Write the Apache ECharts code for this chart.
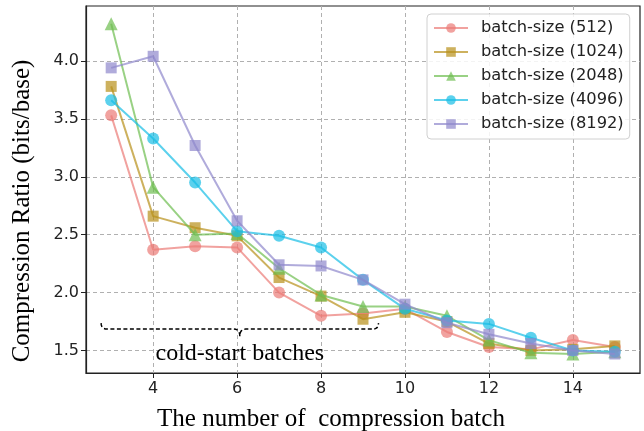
<!DOCTYPE html>
<html>
<head>
<meta charset="utf-8">
<script src="https://cdn.jsdelivr.net/npm/echarts@6/dist/echarts.min.js"></script>
<style>
html,body{margin:0;padding:0;background:#fff;}
#chart{width:644px;height:431px;}
</style>
</head>
<body>
<div id="chart"></div>
<script>
// ---- data ----
const batches = [3, 4, 5, 6, 7, 8, 9, 10, 11, 12, 13, 14, 15];
const bs512  = [3.53, 2.37, 2.40, 2.39, 2.00, 1.80, 1.82, 1.86, 1.66, 1.53, 1.51, 1.59, 1.53];
const bs1024 = [3.78, 2.66, 2.56, 2.49, 2.13, 1.97, 1.77, 1.83, 1.75, 1.56, 1.50, 1.51, 1.54];
const bs2048 = [4.32, 2.91, 2.50, 2.51, 2.21, 1.98, 1.88, 1.88, 1.80, 1.59, 1.48, 1.47, 1.49];
const bs4096 = [3.66, 3.33, 2.95, 2.53, 2.49, 2.39, 2.11, 1.86, 1.76, 1.73, 1.61, 1.50, 1.49];
const bs8192 = [3.94, 4.04, 3.27, 2.62, 2.24, 2.23, 2.11, 1.90, 1.74, 1.64, 1.56, 1.50, 1.47];
const seriesNames = ['batch-size (512)', 'batch-size (1024)', 'batch-size (2048)', 'batch-size (4096)', 'batch-size (8192)'];
const xTicks = [4, 6, 8, 10, 12, 14];
const yTicks = [1.5, 2.0, 2.5, 3.0, 3.5, 4.0];
const xTitle = 'The number of  compression batch';
const yTitle = 'Compression Ratio (bits/base)';
const annoText = 'cold-start batches';
const coldStart = [2.76, 9.37]; // brace span in batch units
const braceY = 1.685;
const annoY = 1.47;

// ---- style ----
const colors = ['#EB7B76', '#B8901A', '#6DBE50', '#17BEE6', '#8F87CC'];
const symbols = ['circle', 'rect', 'triangle', 'circle', 'rect'];
const symSizes = [12, 11, 13, 12, 11];
const allSeries = [bs512, bs1024, bs2048, bs4096, bs8192];

const chart = echarts.init(document.getElementById('chart'));

const series = allSeries.map((vals, i) => ({
  name: seriesNames[i],
  type: 'line',
  data: batches.map((b, j) => [b, vals[j]]),
  symbol: symbols[i],
  symbolSize: symSizes[i],
  showAllSymbol: true,
  color: colors[i],
  lineStyle: { width: 2, color: colors[i], opacity: 0.7 },
  itemStyle: { color: colors[i], opacity: 0.7 },
  emphasis: { disabled: true },
  animation: false,
  z: 3 + i
}));

const gridLineStyle = { type: [4, 3], color: '#b0b0b0', width: 1 };
const labelFont = { fontFamily: 'DejaVu Sans', fontSize: 16, color: '#222' };

chart.setOption({
  animation: false,
  backgroundColor: '#fff',
  grid: { left: 86, right: 4, top: 6, bottom: 58, show: true, borderColor: '#222', borderWidth: 1.2, backgroundColor: 'transparent' },
  xAxis: {
    type: 'value', min: 2.4, max: 15.6,
    axisLine: { show: true, lineStyle: { color: '#222', width: 1.2 } },
    axisTick: { show: true, length: 5, customValues: xTicks, lineStyle: { color: '#222' } },
    axisLabel: Object.assign({ customValues: xTicks, margin: 8, formatter: v => String(v) }, labelFont),
    splitLine: { show: true, lineStyle: gridLineStyle }
  },
  yAxis: {
    type: 'value', min: 1.306, max: 4.474,
    axisLine: { show: true, lineStyle: { color: '#222', width: 1.2 } },
    axisTick: { show: true, length: 5, customValues: yTicks, lineStyle: { color: '#222' } },
    axisLabel: Object.assign({ customValues: yTicks, margin: 7, formatter: v => v.toFixed(1) }, labelFont),
    splitLine: { show: true, lineStyle: gridLineStyle }
  },
  legend: {
    orient: 'vertical', left: 427, top: 14,
    padding: [5, 6, 6, 6],
    itemGap: 6, itemWidth: 34, itemHeight: 12,
    backgroundColor: 'rgba(255,255,255,0.85)',
    borderColor: '#d0d0d0', borderWidth: 1, borderRadius: 4,
    textStyle: { fontFamily: 'DejaVu Sans', fontSize: 16.3, color: '#222', lineHeight: 18, padding: [0, 0, 0, 8] },
    data: seriesNames
  },
  series: series
});

// annotations positioned from data coordinates
const p0 = chart.convertToPixel({ gridIndex: 0 }, [coldStart[0], braceY]);
const p1 = chart.convertToPixel({ gridIndex: 0 }, [coldStart[1], braceY]);
const pc = chart.convertToPixel({ gridIndex: 0 }, [(coldStart[0] + coldStart[1]) / 2, braceY]);
const pt = chart.convertToPixel({ gridIndex: 0 }, [(coldStart[0] + coldStart[1]) / 2, annoY]);
const by = p0[1], xa = p0[0], xb = p1[0], xc = pc[0];
const r = 6, tip = 7;

function quad(a, c, b, n) {
  const pts = [];
  for (let k = 1; k <= n; k++) {
    const t = k / n, u = 1 - t;
    pts.push([u * u * a[0] + 2 * u * t * c[0] + t * t * b[0], u * u * a[1] + 2 * u * t * c[1] + t * t * b[1]]);
  }
  return pts;
}
let bracePts = [[xa, by - r]];
bracePts = bracePts.concat(quad([xa, by - r], [xa, by], [xa + r, by], 6));
bracePts.push([xc - r, by]);
bracePts = bracePts.concat(quad([xc - r, by], [xc, by], [xc, by + tip], 6));
bracePts = bracePts.concat(quad([xc, by + tip], [xc, by], [xc + r, by], 6));
bracePts.push([xb - r, by]);
bracePts = bracePts.concat(quad([xb - r, by], [xb, by], [xb, by - r], 6));

chart.setOption({
  graphic: [
    { type: 'polyline', shape: { points: bracePts }, style: { fill: null, stroke: '#000', lineWidth: 1.5, lineDash: [4, 2.5] }, z: 10 },
    { type: 'text', x: pt[0], y: pt[1], style: { text: annoText, fontFamily: 'Liberation Serif', fontSize: 24, fill: '#000', align: 'center', verticalAlign: 'middle' }, z: 10 },
    { type: 'text', x: 331, y: 419, style: { text: xTitle, fontFamily: 'Liberation Serif', fontSize: 25, fill: '#000', align: 'center', verticalAlign: 'middle' } },
    { type: 'text', x: 22, y: 211, rotation: Math.PI / 2, style: { text: yTitle, fontFamily: 'Liberation Serif', fontSize: 25, fill: '#000', align: 'center', verticalAlign: 'middle' } }
  ]
});
</script>
</body>
</html>
